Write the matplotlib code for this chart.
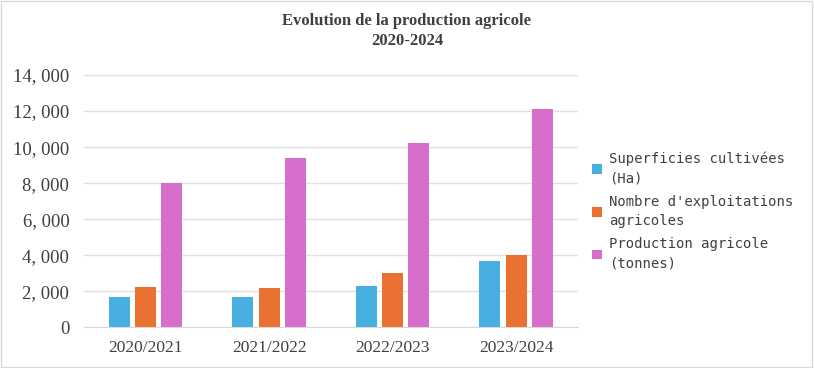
import matplotlib.pyplot as plt
import matplotlib.patches as mpatches
import numpy as np

campagnes = ['2020/2021', '2021/2022', '2022/2023', '2023/2024']
superficies = [1700, 1700, 2300, 3650]
exploitations = [2250, 2200, 3000, 4000]
production = [8000, 9400, 10200, 12100]

series_labels = ['Superficies cultivées\n(Ha)',
                 "Nombre d'exploitations\nagricoles",
                 'Production agricole\n(tonnes)']
colors = ['#47B0E0', '#E97132', '#D86ECC']
yticks = [0, 2000, 4000, 6000, 8000, 10000, 12000, 14000]

fig = plt.figure(figsize=(8.14, 3.68), dpi=100)
fig.patches.append(mpatches.Rectangle((0.001, 0.002), 0.997, 0.995, transform=fig.transFigure,
                                      fill=False, edgecolor='#D9D9D9', linewidth=1))
ax = fig.add_axes([0.103, 0.111, 0.607, 0.685])

x = np.arange(len(campagnes))
width = 0.17
step = 0.212
for i, (vals, col) in enumerate(zip([superficies, exploitations, production], colors)):
    ax.bar(x + (i - 1) * step, vals, width, color=col, label=series_labels[i], zorder=3)

ax.set_xlim(-0.5, len(campagnes) - 0.5)
ax.set_ylim(0, 14000)
ax.set_yticks(yticks)
ax.set_yticklabels(['0' if v == 0 else '{:,}'.format(v).replace(',', ', ') for v in yticks],
                   family='Liberation Serif', fontsize=13.5, color='#404040')
ax.set_xticks(x)
ax.set_xticklabels(campagnes, family='Liberation Serif', fontsize=12.5, color='#404040')
ax.tick_params(axis='y', length=0, pad=10.5)
ax.tick_params(axis='x', length=0, pad=9)
ax.grid(axis='y', color='#E0E0E0', linewidth=1, zorder=0)
for s in ['top', 'right', 'left']:
    ax.spines[s].set_visible(False)
ax.spines['bottom'].set_color('#D9D9D9')
ax.spines['bottom'].set_zorder(4)

fig.text(0.5, 0.915, 'Evolution de la production agricole\n2020-2024', ha='center', va='center',
         family='Liberation Serif', fontsize=12, fontweight='bold', color='#404040',
         linespacing=1.3)

leg = fig.legend(loc='upper left', bbox_to_anchor=(0.712, 0.622), frameon=False,
                 prop={'family': 'DejaVu Sans Mono', 'size': 10},
                 handlelength=0.7, handleheight=0.7, handletextpad=0.5,
                 labelspacing=0.7)
for t in leg.get_texts():
    t.set_color('#404040')
    t.set_linespacing(1.45)

fig.savefig('out.png', dpi=100)
